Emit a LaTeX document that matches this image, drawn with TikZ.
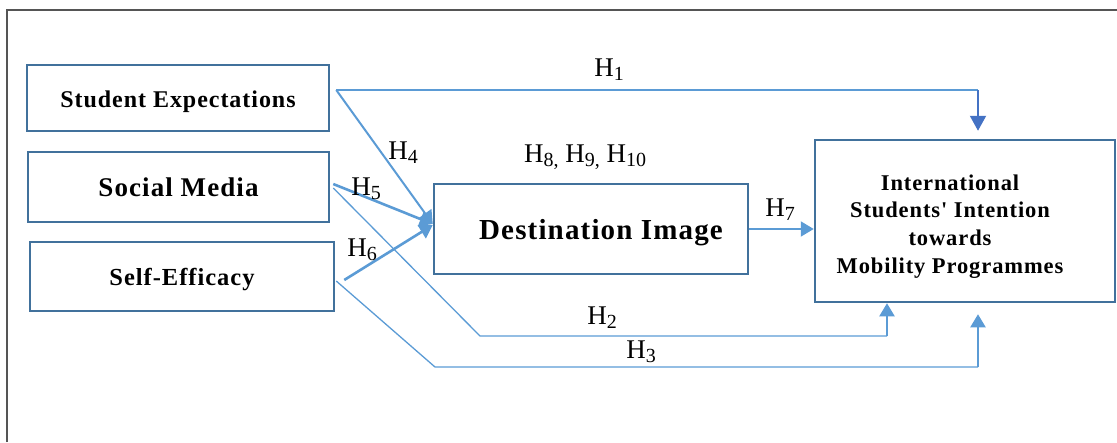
\documentclass[tikz,border=0pt]{standalone}
\usepackage{fontspec}
\setmainfont{Liberation Serif}
\newfontfamily\boxfont{Liberation Serif}[LetterSpace=4]
\usetikzlibrary{arrows.meta,calc}
\definecolor{boxc}{RGB}{65,113,156}
\definecolor{linec}{RGB}{91,155,213}
\definecolor{darkc}{RGB}{68,114,196}
\definecolor{framec}{RGB}{85,85,85}
\newcommand{\Hsub}[1]{H\raisebox{-0.3ex}{\fontsize{20}{20}\selectfont #1}}
\begin{document}
\begin{tikzpicture}[x=1pt,y=-1pt,
 box/.style={draw=boxc,line width=2.5pt,inner sep=0pt,align=center},
 lbl/.style={font=\fontsize{27}{27}\selectfont,inner sep=0pt},
 thinln/.style={draw=linec,line width=1.3pt},
 midln/.style={draw=linec,line width=2pt},
 thickln/.style={draw=linec,line width=2.6pt},
 tip/.style={-{Triangle[length=15pt,width=16pt]}},
 smalltip/.style={-{Triangle[length=13pt,width=15pt]}}]
\useasboundingbox (0,0) rectangle (1117,442);
\draw[framec,line width=2pt] (7,442) -- (7,10) -- (1117,10);

\node[box,minimum width=302pt,minimum height=66pt,font=\boxfont\bfseries\fontsize{24}{24}\selectfont] (se) at (178,98) {\rule{0pt}{24pt}Student Expectations};
\node[box,minimum width=301pt,minimum height=70pt,font=\boxfont\bfseries\fontsize{27}{27}\selectfont] (sm) at (178.5,187) {Social Media};
\node[box,minimum width=304pt,minimum height=69pt,font=\boxfont\bfseries\fontsize{24.5}{24.5}\selectfont] (sf) at (182,276.5) {\rule{0pt}{23pt}Self-Efficacy};
\node[box,minimum width=314pt,minimum height=90pt,font=\boxfont\bfseries\fontsize{29}{29}\selectfont] (di) at (591,229) {\hspace*{20pt}\rule{0pt}{27pt}Destination Image};
\node[box,minimum width=300pt,minimum height=162pt,font=\boxfont\bfseries\fontsize{22.5}{27.7}\selectfont] (intent) at (965,221)
 {\hspace*{-30pt}\begin{tabular}{@{}c@{}}\rule{0pt}{30pt}International\\Students' Intention\\towards\\Mobility Programmes\end{tabular}};

\coordinate (seo) at ($(se.east)+(6,-8)$);
\coordinate (ax) at ($(intent.north)+(13,0)$);
\coordinate (h1c) at (seo -| ax);
\coordinate (smo) at ($(sm.east)+(3,1)$);
\coordinate (b2) at (480,336);
\coordinate (bx) at ($(intent.south)+(-78,0)$);
\coordinate (sfo) at ($(sf.east)+(1,4.5)$);
\coordinate (b3) at (435,367);

% H1
\draw[midln] (seo) -- (h1c);
\draw[draw=darkc,line width=2pt,tip] (h1c) -- ($(intent.north)+(13,-8)$);
% H4, H5, H6
\draw[midln,smalltip] (seo) -- ($(di.west)+(0,-5)$);
\draw[thickln,smalltip] ($(sm.east)+(3,-3)$) -- ($(di.west)+(0,-5)$);
\draw[thickln,smalltip] ($(sf.east)+(9,3.5)$) -- ($(di.west)+(0,-4)$);
% H2
\draw[thinln] (smo) -- (b2) -- (b2 -| bx);
\draw[midln,smalltip] (b2 -| bx) -- (bx);
% H3
\draw[thinln] (sfo) -- (b3) -- (b3 -| ax);
\draw[midln,smalltip] (b3 -| ax) -- ($(intent.south)+(13,11)$);
% H7
\draw[midln,smalltip] (di.east) -- (di.east -| intent.west);

\node[lbl] (l1) at (609,70) {\Hsub{1}};
\node[lbl] (l4) at (403,153) {\Hsub{4}};
\node[lbl] (l5) at (366,189) {\Hsub{5}};
\node[lbl] (l6) at (362,250) {\Hsub{6}};
\node[lbl] (l8) at (585,157) {\Hsub{8,} \Hsub{9,} \Hsub{10}};
\node[lbl] (l7) at (780,210) {\Hsub{7}};
\node[lbl] (l2) at (602,318) {\Hsub{2}};
\node[lbl] (l3) at (641,352) {\Hsub{3}};
\end{tikzpicture}
\end{document}
